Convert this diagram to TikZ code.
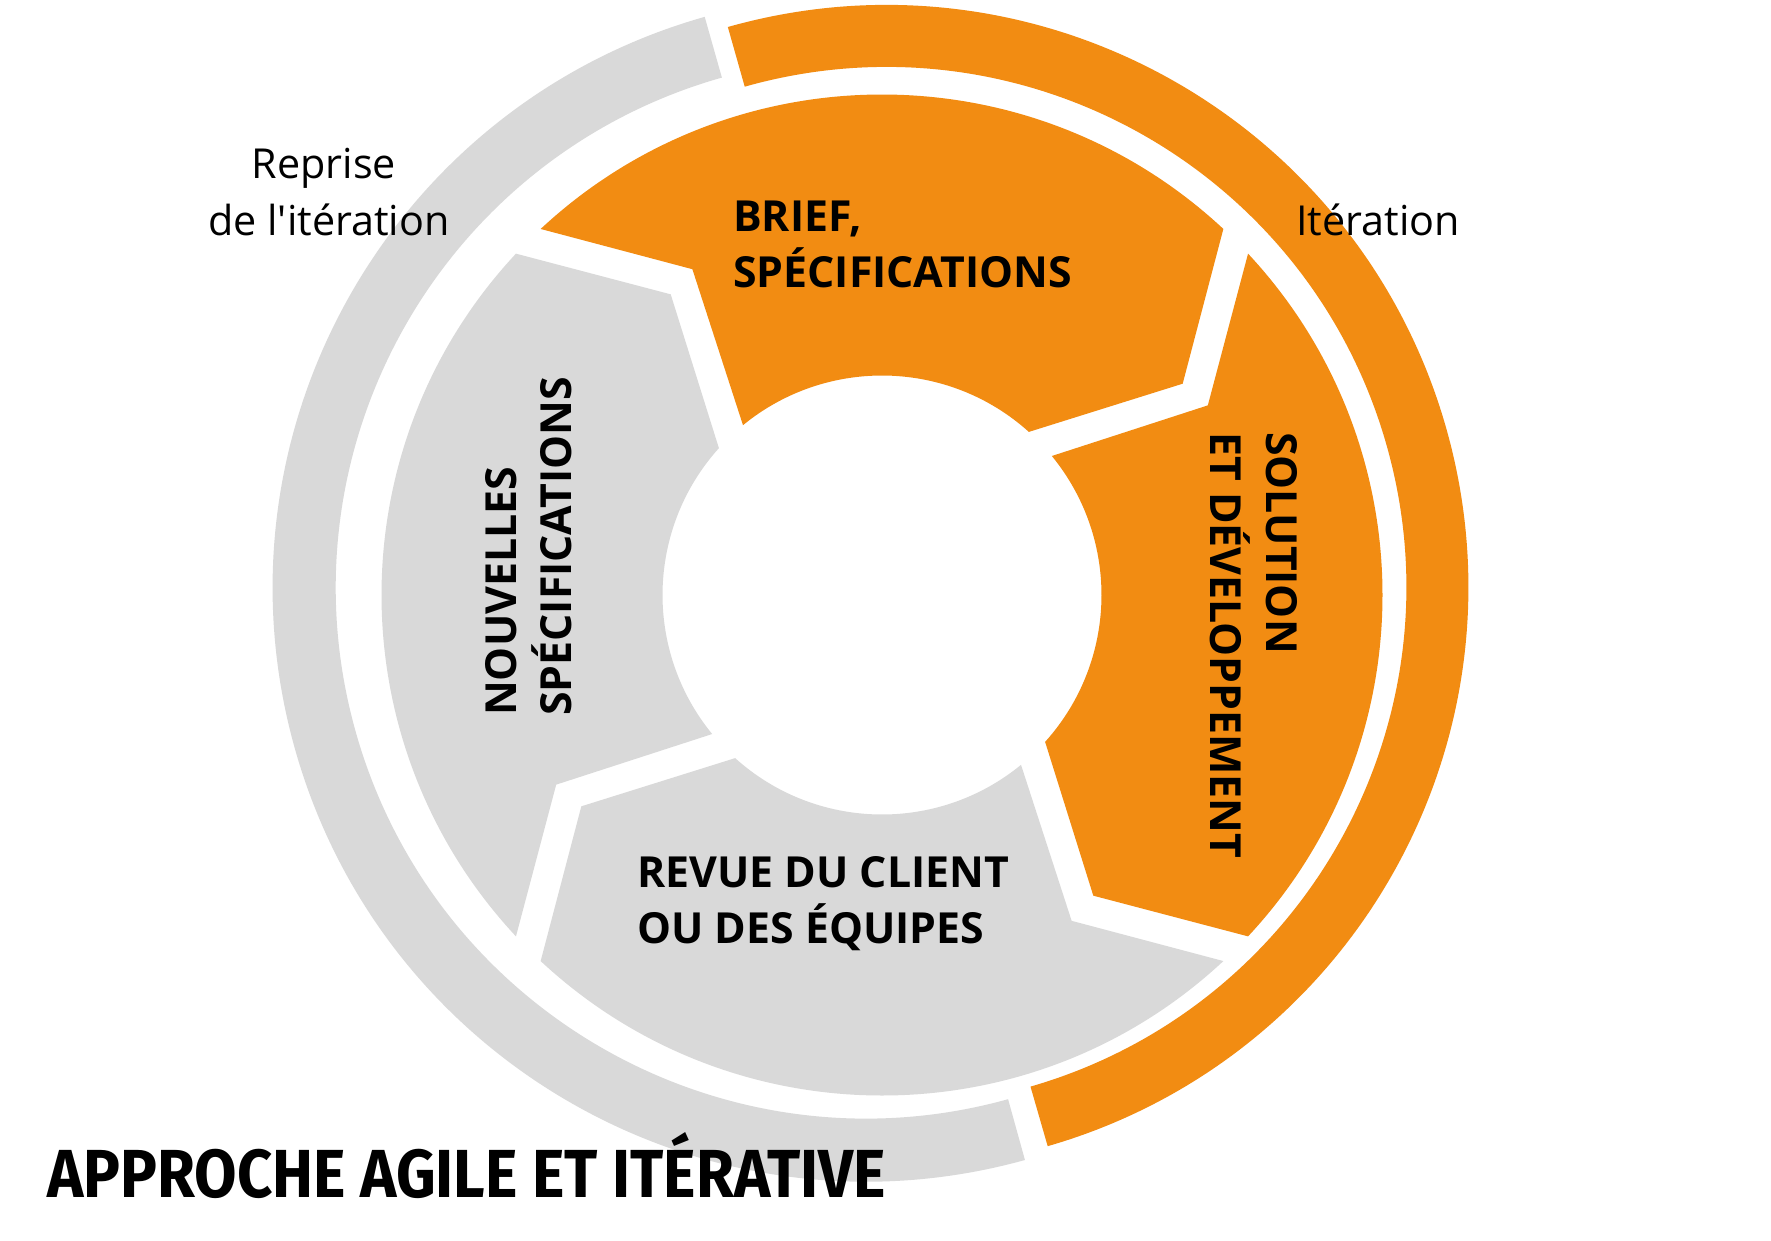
\documentclass[tikz,border=0pt]{standalone}
\usepackage{fontspec}
\setmainfont{Open Sans}
\newfontfamily\titlefont{Fira Sans}
\definecolor{agOrange}{RGB}{242,140,18}
\definecolor{agGray}{RGB}{217,217,217}
\newcommand\agseg[2]{%
  \begin{scope}[shift={(Ci)},rotate=#1]
    \fill[#2] (133:500.5) arc[start angle=133,end angle=47,radius=500.5]
      -- (35.1:367.5) -- (48:219.5)
      arc[start angle=48,end angle=129.3,radius=219.5]
      -- (120.2:377) -- cycle;
  \end{scope}}
\begin{document}
\begin{tikzpicture}[x=1pt,y=1pt,
  boldlbl/.style={inner sep=0pt,anchor=base west,font=\fontsize{42.8}{49}\selectfont\bfseries,text=black},
  reglbl/.style={inner sep=0pt,anchor=base,font=\fontsize{41.3}{48}\selectfont,text=black}]
\useasboundingbox[fill=white] (0,0) rectangle (1771,-1240);
\coordinate (Ci) at (882,-595);
\coordinate (Cg) at (866.3,-588);
\coordinate (Co) at (886.3,-587);
% outer ring
\fill[agGray] ([shift={(105.8:593.6)}]Cg) arc[start angle=105.8,end angle=285.5,radius=593.6]
  -- ([shift={(285.5:530.5)}]Cg) arc[start angle=285.5,end angle=105.8,radius=530.5] -- cycle;
\fill[agOrange] ([shift={(105.8:582)}]Co) arc[start angle=105.8,end angle=-73.9,radius=582]
  -- ([shift={(-73.9:520)}]Co) arc[start angle=-73.9,end angle=105.8,radius=520] -- cycle;
% inner segments
\agseg{0}{agOrange}
\agseg{-90}{agOrange}
\agseg{-180}{agGray}
\agseg{90}{agGray}
% labels
\node[boldlbl] (brief1) at (733,-231) {BRIEF,};
\node[boldlbl] (brief2) at (733,-287) {SPÉCIFICATIONS};
\node[boldlbl] (rev1) at (637,-887) {REVUE DU CLIENT};
\node[boldlbl] (rev2) at (637,-943) {OU DES ÉQUIPES};
\node[boldlbl,rotate=-90] (sol1) at (1266,-432) {SOLUTION};
\node[boldlbl,rotate=-90] (sol2) at (1210,-432) {ET DÉVELOPPEMENT};
\node[boldlbl,rotate=90] (nou1) at (516,-716) {NOUVELLES};
\node[boldlbl,rotate=90] (nou2) at (571,-716) {SPÉCIFICATIONS};
\node[reglbl] (rep1) at (324,-178) {Reprise};
\node[reglbl] (rep2) at (329,-235) {de l\textquotesingle itération};
\node[reglbl,anchor=base west] (iter) at (1296,-235) {Itération};
\node[inner sep=0pt,anchor=base west] (title) at (47,-1197)
  {\scalebox{0.905}[1]{\titlefont\fontsize{68}{68}\selectfont\bfseries APPROCHE AGILE ET ITÉRATIVE}};
\end{tikzpicture}
\end{document}
